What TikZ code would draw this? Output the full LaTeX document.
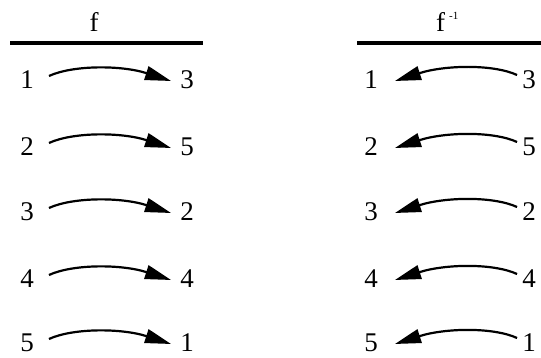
\documentclass[tikz,border=0pt]{standalone}
\usepackage{fontspec}
\setmainfont{Liberation Serif}
\usetikzlibrary{arrows.meta}
\begin{document}
\begin{tikzpicture}[x=1pt,y=1pt,
  num/.style={inner sep=0pt, font=\fontsize{27}{32}\selectfont},
  arr/.style={line width=2.2pt, -{Triangle[length=26pt,width=14pt]}},
  rulebar/.style={line width=4pt}]
\useasboundingbox (0,0) rectangle (541,358);
% headers
\node[num, anchor=base] (hf) at (94,326) {f};
\node[num, anchor=base west] (hg) at (436,326) {f\hspace{4pt}\raisebox{12pt}{\fontsize{11}{11}\selectfont -1}};
\coordinate (fl0) at (10,315);
\coordinate (fl1) at (203,315);
\coordinate (gl0) at (357,315);
\coordinate (gl1) at (541,315);
\draw[rulebar] (fl0) -- (fl1);
\draw[rulebar] (gl0) -- (gl1);
% rows
\foreach \y/\a/\b [count=\i] in {278/1/3, 211/2/5, 146/3/2, 79/4/4, 15/5/1} {
  \node[num] (l\i) at (27,\y) {\a};
  \node[num] (r\i) at (187,\y) {\b};
  \node[num] (a\i) at (371,\y) {\a};
  \node[num] (b\i) at (529,\y) {\b};
  \draw[arr] ([shift={(15,4)}]l\i.east) .. controls +(24,11) and +(-50,16) .. ([shift={(-9,-1)}]r\i.west);
  \draw[arr] ([shift={(-5,5)}]b\i.west) .. controls +(-24,11) and +(50,16) .. ([shift={(17,-1)}]a\i.east);
}
\end{tikzpicture}
\end{document}
